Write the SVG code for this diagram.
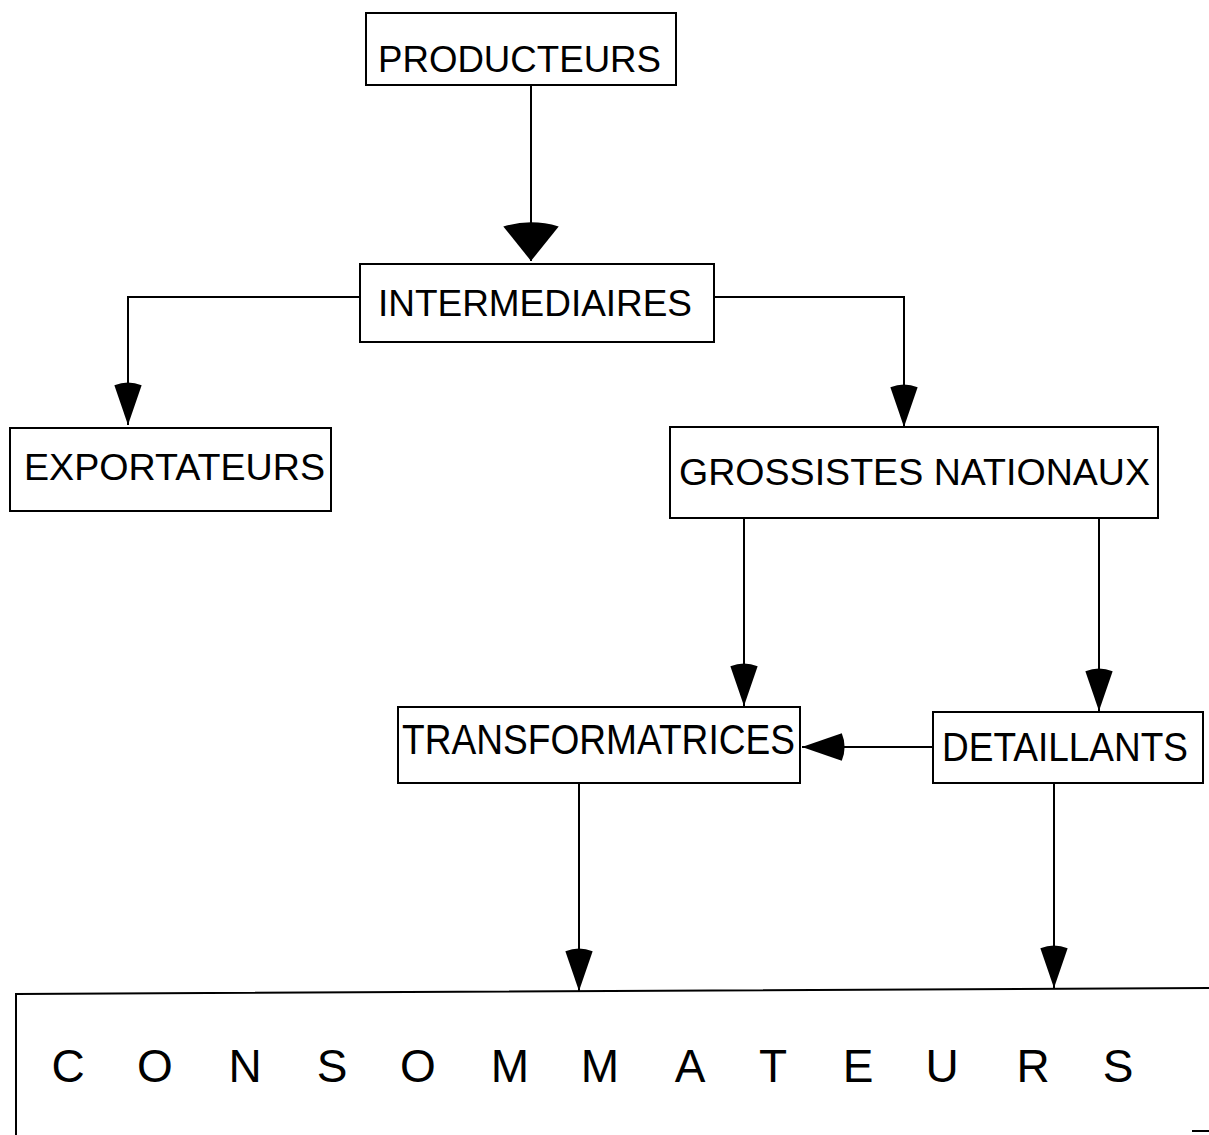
<svg xmlns="http://www.w3.org/2000/svg" width="1209" height="1135" viewBox="0 0 1209 1135">
<style>
.box{fill:#fff;stroke:#000;stroke-width:2}
.lbl{font-family:"Liberation Sans",Arial,sans-serif;fill:#000;font-size:36px}
.edge{fill:none;stroke:#000;stroke-width:2}
</style>
<defs>
<marker id="ah" markerUnits="userSpaceOnUse" markerWidth="50" markerHeight="40" viewBox="-42 -14 44 28" refX="0" refY="0" orient="auto" overflow="visible">
<path d="M0,0 L-35,-12 Q-40,0 -35,12 Z" fill="#000"/>
</marker>
<marker id="ahBig" markerUnits="userSpaceOnUse" markerWidth="60" markerHeight="60" viewBox="-42 -26 44 52" refX="0" refY="0" orient="auto" overflow="visible">
<path d="M0,0 L-30,-24 Q-37,0 -30,24 Z" fill="#000"/>
</marker>
</defs>
<rect width="1209" height="1135" fill="#fff"/>
<g id="connectors">
<path class="edge" d="M531,85 V261" marker-end="url(#ahBig)"/>
<path class="edge" d="M360,297 H128 V425" marker-end="url(#ah)"/>
<path class="edge" d="M714,297 H904 V427" marker-end="url(#ah)"/>
<path class="edge" d="M744,518 V706" marker-end="url(#ah)"/>
<path class="edge" d="M1099,518 V711" marker-end="url(#ah)"/>
<path class="edge" d="M933,747 H802" marker-end="url(#ah)"/>
<path class="edge" d="M579,783 V991" marker-end="url(#ah)"/>
<path class="edge" d="M1054,783 V988" marker-end="url(#ah)"/>
</g>
<g id="producteurs">
<rect class="box" x="366" y="13" width="310" height="72"/>
<text class="lbl" x="378" y="72" textLength="283" lengthAdjust="spacingAndGlyphs">PRODUCTEURS</text>
</g>
<g id="intermediaires">
<rect class="box" x="360" y="264" width="354" height="78"/>
<text class="lbl" x="378" y="316" textLength="314" lengthAdjust="spacingAndGlyphs">INTERMEDIAIRES</text>
</g>
<g id="exportateurs">
<rect class="box" x="10" y="428" width="321" height="83"/>
<text class="lbl" x="24" y="480" textLength="301" lengthAdjust="spacingAndGlyphs">EXPORTATEURS</text>
</g>
<g id="grossistes">
<rect class="box" x="670" y="427" width="488" height="91"/>
<text class="lbl" x="679" y="485" textLength="471" lengthAdjust="spacingAndGlyphs">GROSSISTES NATIONAUX</text>
</g>
<g id="transformatrices">
<rect class="box" x="398" y="707" width="402" height="76"/>
<text class="lbl" transform="translate(402,754) scale(1,1.15)" x="0" y="0" textLength="393" lengthAdjust="spacingAndGlyphs" style="font-size:36.8px">TRANSFORMATRICES</text>
</g>
<g id="detaillants">
<rect class="box" x="933" y="712" width="270" height="71"/>
<text class="lbl" transform="translate(942,761) scale(1,1.13)" x="0" y="0" textLength="246" lengthAdjust="spacingAndGlyphs" style="font-size:36.5px">DETAILLANTS</text>
</g>
<g id="consommateurs">
<path class="edge" d="M1209,988 L16,994 V1135"/>
<path class="edge" d="M1192,1131 H1209"/>
<text class="lbl" y="1082" text-anchor="middle" style="font-size:46px" x="68 155 245 332 418 510 600 690 773 858 942 1033 1118">CONSOMMATEURS</text>
</g>
</svg>
